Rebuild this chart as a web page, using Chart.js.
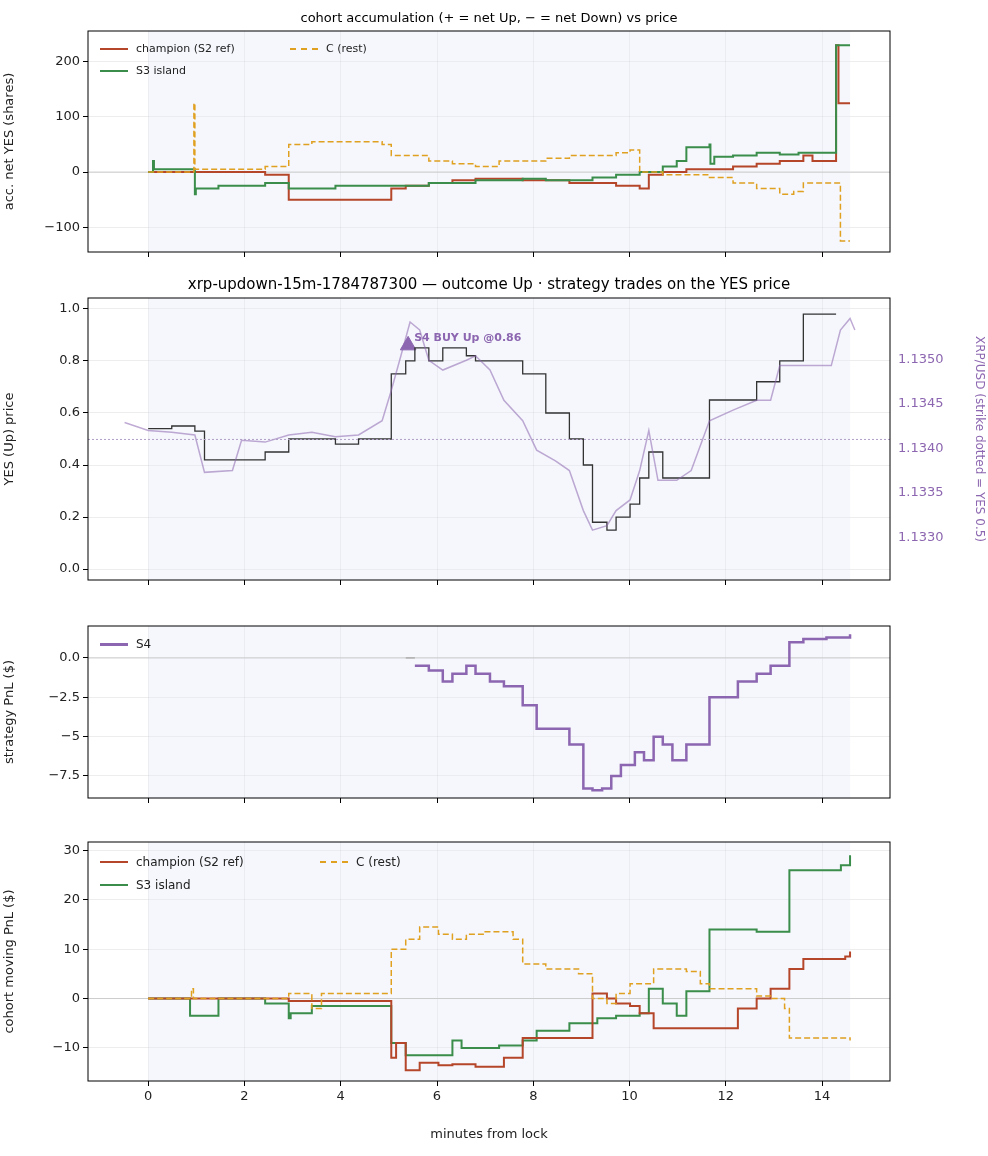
<!DOCTYPE html>
<html>
<head>
<meta charset="utf-8">
<script src="https://cdn.jsdelivr.net/npm/chart.js@4"></script>
<style>
  body { margin: 0; background: #fff; font-family: "DejaVu Sans", sans-serif; }
  #wrap { position: relative; width: 988px; height: 1156px; }
  .pan { position: absolute; left: 0; width: 988px; }
  .lg { position: absolute; font-size: 11px; color: #222; display: flex; align-items: center; }
  .lg i { display: inline-block; width: 28px; margin-right: 8px; border-top: 2px solid; }
</style>
</head>
<body>
<div id="wrap">
  <canvas id="c1" class="pan" style="top:0;height:275px"></canvas>
  <canvas id="c2" class="pan" style="top:275px;height:330px"></canvas>
  <canvas id="c3" class="pan" style="top:605px;height:210px"></canvas>
  <canvas id="c4" class="pan" style="top:815px;height:341px"></canvas>

  <div class="lg" style="left:100px;top:42px"><i style="border-color:#b5462a"></i>champion (S2 ref)</div>
  <div class="lg" style="left:290px;top:42px"><i style="border-color:#e0a020;border-top-style:dashed"></i>C (rest)</div>
  <div class="lg" style="left:100px;top:64px"><i style="border-color:#3a8d4a"></i>S3 island</div>
  <div class="lg" style="left:100px;top:637px;font-size:12px"><i style="border-color:#8c66b0;border-top-width:3px"></i>S4</div>
  <div class="lg" style="left:100px;top:855px;font-size:12px"><i style="border-color:#b5462a"></i>champion (S2 ref)</div>
  <div class="lg" style="left:320px;top:855px;font-size:12px"><i style="border-color:#e0a020;border-top-style:dashed"></i>C (rest)</div>
  <div class="lg" style="left:100px;top:878px;font-size:12px"><i style="border-color:#3a8d4a"></i>S3 island</div>
</div>
<script>
// panel 1: accumulated net YES shares
const accChampT = [0, 2.43, 2.92, 5.05, 5.35, 5.83, 6.32, 6.8, 7.78, 8.75, 9.72, 10.21, 10.4, 10.69, 11.18, 12.15, 12.64, 13.12, 13.61, 13.8, 14.29, 14.34, 14.58];
const accChampV = [0, -5, -50, -30, -25, -20, -15, -12, -15, -20, -25, -30, -5, 0, 5, 10, 15, 20, 30, 20, 230, 125, 125];
const accS3T = [0, 0.1, 0.12, 0.97, 0.99, 1.46, 2.43, 2.92, 3.89, 5.83, 6.8, 7.78, 8.26, 9.23, 9.72, 10.21, 10.69, 10.98, 11.18, 11.66, 11.68, 11.76, 12.15, 12.64, 13.12, 13.51, 14.29, 14.58];
const accS3V = [0, 20, 5, -40, -30, -25, -20, -30, -25, -20, -15, -12, -15, -10, -5, 0, 10, 20, 45, 50, 15, 28, 30, 35, 32, 35, 230, 230];
const accCT = [0, 0.95, 0.97, 1.94, 2.43, 2.92, 3.4, 4.37, 4.86, 5.05, 5.83, 6.32, 6.8, 7.29, 8.26, 8.75, 9.72, 10.01, 10.21, 10.69, 11.66, 12.15, 12.64, 13.12, 13.41, 13.61, 14.38, 14.58];
const accCV = [0, 125, 5, 5, 10, 50, 55, 55, 50, 30, 20, 15, 10, 20, 25, 30, 35, 40, 0, -5, -10, -20, -30, -40, -35, -20, -125, -125];

// panel 2: YES price and XRP/USD
const yesT = [0, 0.49, 0.97, 1.17, 1.94, 2.43, 2.92, 3.4, 3.89, 4.37, 5.05, 5.35, 5.54, 5.83, 6.12, 6.61, 6.8, 7.78, 8.26, 8.75, 9.04, 9.23, 9.53, 9.72, 10.01, 10.21, 10.4, 10.69, 11.18, 11.66, 12.15, 12.64, 13.12, 13.61, 14.09, 14.29];
const yesV = [0.54, 0.55, 0.53, 0.42, 0.42, 0.45, 0.50, 0.50, 0.48, 0.50, 0.75, 0.80, 0.85, 0.80, 0.85, 0.82, 0.80, 0.75, 0.60, 0.50, 0.40, 0.18, 0.15, 0.20, 0.25, 0.35, 0.45, 0.35, 0.35, 0.65, 0.65, 0.72, 0.80, 0.98, 0.98, 0.98];
const xrpT = [-0.49, 0, 0.49, 0.97, 1.17, 1.75, 1.94, 2.43, 2.92, 3.4, 3.89, 4.37, 4.86, 5.05, 5.25, 5.44, 5.64, 5.83, 6.12, 6.61, 6.8, 7.1, 7.39, 7.78, 8.07, 8.46, 8.75, 9.04, 9.23, 9.53, 9.72, 10.01, 10.21, 10.4, 10.59, 10.98, 11.28, 11.66, 12.15, 12.64, 12.93, 13.12, 13.61, 14.19, 14.38, 14.58, 14.68];
const xrpV = [1.13429, 1.13420, 1.13418, 1.13415, 1.13373, 1.13375, 1.13409, 1.13407, 1.13415, 1.13418, 1.13413, 1.13415, 1.13431, 1.13465, 1.13504, 1.13542, 1.13533, 1.13499, 1.13488, 1.13499, 1.13504, 1.13488, 1.13454, 1.13431, 1.13398, 1.13386, 1.13375, 1.13330, 1.13308, 1.13313, 1.13330, 1.13342, 1.13375, 1.13420, 1.13364, 1.13364, 1.13375, 1.13431, 1.13443, 1.13454, 1.13454, 1.13493, 1.13493, 1.13493, 1.13533, 1.13546, 1.13533];
const tradeT = [5.4];
const tradeV = [0.86];
const tradeLabel = "S4 BUY Up @0.86";

// panel 3: strategy PnL
const s4T = [5.54, 5.83, 6.12, 6.32, 6.61, 6.8, 7.1, 7.39, 7.78, 8.07, 8.55, 8.75, 9.04, 9.23, 9.43, 9.62, 9.82, 10.11, 10.3, 10.5, 10.69, 10.89, 11.18, 11.66, 12.25, 12.64, 12.93, 13.32, 13.61, 14.09, 14.58];
const s4V = [-0.5, -0.8, -1.5, -1.0, -0.5, -1.0, -1.5, -1.8, -3.0, -4.5, -4.5, -5.5, -8.3, -8.4, -8.3, -7.5, -6.8, -6.0, -6.5, -5.0, -5.5, -6.5, -5.5, -2.5, -1.5, -1.0, -0.5, 1.0, 1.2, 1.3, 1.5];

// panel 4: cohort moving PnL
const pnlChampT = [0, 2.92, 5.05, 5.15, 5.35, 5.64, 6.03, 6.32, 6.8, 7.39, 7.78, 8.75, 9.23, 9.53, 9.72, 10.01, 10.21, 10.5, 11.66, 12.25, 12.64, 12.93, 13.32, 13.61, 14.48, 14.58];
const pnlChampV = [0, -0.5, -12, -9, -14.5, -13, -13.5, -13.3, -13.8, -12, -8, -8, 1, 0, -1, -1.5, -3, -6, -6, -2, 0, 2, 6, 8, 8.5, 9.5];
const pnlS3T = [0, 0.87, 1.46, 2.43, 2.92, 2.96, 3.4, 5.05, 5.35, 6.32, 6.51, 7.29, 7.78, 8.07, 8.75, 9.33, 9.72, 10.21, 10.4, 10.69, 10.98, 11.18, 11.66, 12.64, 13.32, 14.39, 14.58];
const pnlS3V = [0, -3.5, 0, -1, -4, -3, -1.5, -9, -11.5, -8.5, -10, -9.5, -8.5, -6.5, -5, -4, -3.5, -3, 2, -1, -3.5, 1.5, 14, 13.5, 26, 27, 29];
const pnlCT = [0, 0.9, 0.94, 2.92, 3.4, 3.6, 5.05, 5.35, 5.64, 6.03, 6.32, 6.61, 7.0, 7.58, 7.78, 8.26, 8.94, 9.23, 9.53, 9.72, 10.01, 10.5, 11.18, 11.47, 11.66, 12.64, 12.93, 13.22, 13.32, 14.58];
const pnlCV = [0, 2, 0, 1, -2, 1, 10, 12, 14.5, 13, 12, 13, 13.5, 12, 7, 6, 5, 0, -1, 1, 3, 6, 5.5, 3, 2, 0.5, 0, -2, -8, -8.5];

const xTicks = [0, 2, 4, 6, 8, 10, 12, 14];
const windowEnd = 14.58;
const RED = "#b5462a", GREEN = "#3a8d4a", GOLD = "#e0a020", PURPLE = "#8c66b0";
Chart.defaults.font = { family: "DejaVu Sans", size: 13 };
Chart.defaults.color = "#222";

const pts = (t, v) => t.map((x, i) => ({ x: x, y: v[i] }));

const frame = {
  id: "frame",
  beforeDatasetsDraw(chart) {
    const { ctx, chartArea: a, scales: { x } } = chart;
    ctx.save();
    ctx.fillStyle = "rgba(225,232,245,0.35)";
    ctx.fillRect(x.getPixelForValue(0), a.top, x.getPixelForValue(windowEnd) - x.getPixelForValue(0), a.bottom - a.top);
    if (chart.options.zeroLine) {
      const y0 = chart.scales.y.getPixelForValue(0);
      ctx.strokeStyle = "#cccccc"; ctx.lineWidth = 1;
      ctx.beginPath(); ctx.moveTo(a.left, y0); ctx.lineTo(a.right, y0); ctx.stroke();
    }
    ctx.restore();
  },
  afterDraw(chart) {
    const { ctx, chartArea: a } = chart;
    ctx.save();
    ctx.strokeStyle = "#000"; ctx.lineWidth = 1;
    ctx.strokeRect(a.left, a.top, a.right - a.left, a.bottom - a.top);
    if (chart.options.topTitle) {
      ctx.fillStyle = "#000";
      ctx.font = chart.options.topTitle.size + "px DejaVu Sans";
      ctx.textAlign = "center";
      ctx.fillText(chart.options.topTitle.text, (a.left + a.right) / 2, a.top - 9);
    }
    if (chart.options.tradeMark) {
      const px = chart.scales.x.getPixelForValue(tradeT[0]), py = chart.scales.y.getPixelForValue(tradeV[0]);
      ctx.fillStyle = PURPLE;
      ctx.font = "bold 11px DejaVu Sans";
      ctx.textAlign = "left";
      ctx.fillText(tradeLabel, px + 6, py - 4);
    }
    ctx.restore();
  }
};

function panel(id, top, h, plotTop, plotBot, datasets, y, extra) {
  const xAxis = {
    type: "linear", min: -1.25, max: 15.41,
    afterBuildTicks: s => { s.ticks = xTicks.map(v => ({ value: v })); },
    afterFit: s => { s.height = top + h - plotBot; },
    grid: { color: "rgba(0,0,0,0.07)", tickColor: "#000", tickLength: 5 },
    border: { display: false },
    ticks: { display: extra.xLabels || false, color: "#222", padding: 3 },
    title: { display: !!extra.xTitle, text: extra.xTitle, color: "#222", padding: { top: 0, bottom: 0 } }
  };
  const yAxis = {
    position: "left", min: y.min, max: y.max,
    afterBuildTicks: s => { s.ticks = y.ticks.map(v => ({ value: v })); },
    afterFit: s => { s.width = 88; },
    grid: { color: "rgba(0,0,0,0.07)", tickColor: "#000", tickLength: 5 },
    border: { display: false },
    ticks: { color: "#222", callback: y.fmt || (v => v) },
    title: { display: true, text: y.title, color: "#222", padding: 2 }
  };
  const scales = { x: xAxis, y: yAxis };
  if (extra.y2) scales.y2 = extra.y2;
  return new Chart(document.getElementById(id), {
    type: "line",
    data: { datasets },
    options: {
      responsive: false, animation: false,
      layout: { padding: { top: plotTop - top, right: extra.y2 ? 0 : 98, left: 0, bottom: extra.xTitle ? 14 : 0 } },
      plugins: { legend: { display: false }, tooltip: { enabled: false } },
      elements: { point: { radius: 0 } },
      scales,
      zeroLine: extra.zeroLine, topTitle: extra.topTitle, tradeMark: extra.tradeMark
    },
    plugins: [frame]
  });
}
function sizeCanvas(id, h) { const c = document.getElementById(id); c.width = 988; c.height = h; }
sizeCanvas("c1", 275); sizeCanvas("c2", 330); sizeCanvas("c3", 210); sizeCanvas("c4", 341);

const minus = v => (v < 0 ? "\u2212" + Math.abs(v) : "" + v);

panel("c1", 0, 275, 31, 252, [
  { data: pts(accCT, accCV), borderColor: GOLD, borderWidth: 1.5, borderDash: [6, 3], stepped: true },
  { data: pts(accS3T, accS3V), borderColor: GREEN, borderWidth: 2, stepped: true },
  { data: pts(accChampT, accChampV), borderColor: RED, borderWidth: 2, stepped: true }
], { min: -145, max: 256, ticks: [-100, 0, 100, 200], title: "acc. net YES (shares)", fmt: minus },
{ zeroLine: true, topTitle: { text: "cohort accumulation (+ = net Up, \u2212 = net Down) vs price", size: 13 } });

panel("c2", 275, 330, 298, 580, [
  { data: [{ x: -1.25, y: 1.1341 }, { x: 15.41, y: 1.1341 }], yAxisID: "y2", borderColor: "#b0a0c8", borderWidth: 1, borderDash: [2, 2] },
  { data: pts(xrpT, xrpV), yAxisID: "y2", borderColor: "rgba(140,102,176,0.55)", borderWidth: 1.5 },
  { data: pts(yesT, yesV), borderColor: "#333", borderWidth: 1.3, stepped: true },
  { type: "scatter", data: pts(tradeT, tradeV), pointStyle: "triangle", pointRadius: 9, backgroundColor: PURPLE, borderColor: PURPLE }
], { min: -0.042, max: 1.042, ticks: [0, 0.2, 0.4, 0.6, 0.8, 1.0], title: "YES (Up) price", fmt: v => v.toFixed(1) },
{ tradeMark: true, topTitle: { text: "xrp-updown-15m-1784787300 \u2014 outcome Up \u00b7 strategy trades on the YES price", size: 15 },
  y2: {
    position: "right", min: 1.13252, max: 1.13569,
    afterBuildTicks: s => { s.ticks = [1.133, 1.1335, 1.134, 1.1345, 1.135].map(v => ({ value: v })); },
    afterFit: s => { s.width = 98; },
    grid: { display: false, tickColor: PURPLE, tickLength: 5 },
    border: { display: false },
    ticks: { color: PURPLE, font: { size: 13 }, callback: v => v.toFixed(4) },
    title: { display: true, text: "XRP/USD (strike dotted = YES 0.5)", color: PURPLE, font: { size: 12 }, padding: 2 }
  } });

panel("c3", 605, 210, 626, 798, [
  { data: [{ x: 5.35, y: 0 }, { x: 5.54, y: 0 }], borderColor: "#999", borderWidth: 1 },
  { data: pts(s4T, s4V), borderColor: PURPLE, borderWidth: 2.5, stepped: true }
], { min: -8.9, max: 2.03, ticks: [-7.5, -5, -2.5, 0], title: "strategy PnL ($)", fmt: v => minus(v.toFixed(1)) },
{ zeroLine: true });

panel("c4", 815, 341, 842, 1095, [
  { data: pts(pnlCT, pnlCV), borderColor: GOLD, borderWidth: 1.5, borderDash: [6, 3], stepped: true },
  { data: pts(pnlChampT, pnlChampV), borderColor: RED, borderWidth: 2, stepped: true },
  { data: pts(pnlS3T, pnlS3V), borderColor: GREEN, borderWidth: 2, stepped: true }
], { min: -16.7, max: 31.7, ticks: [-10, 0, 10, 20, 30], title: "cohort moving PnL ($)", fmt: minus },
{ zeroLine: true, xLabels: true, xTitle: "minutes from lock" });
</script>
</body>
</html>
